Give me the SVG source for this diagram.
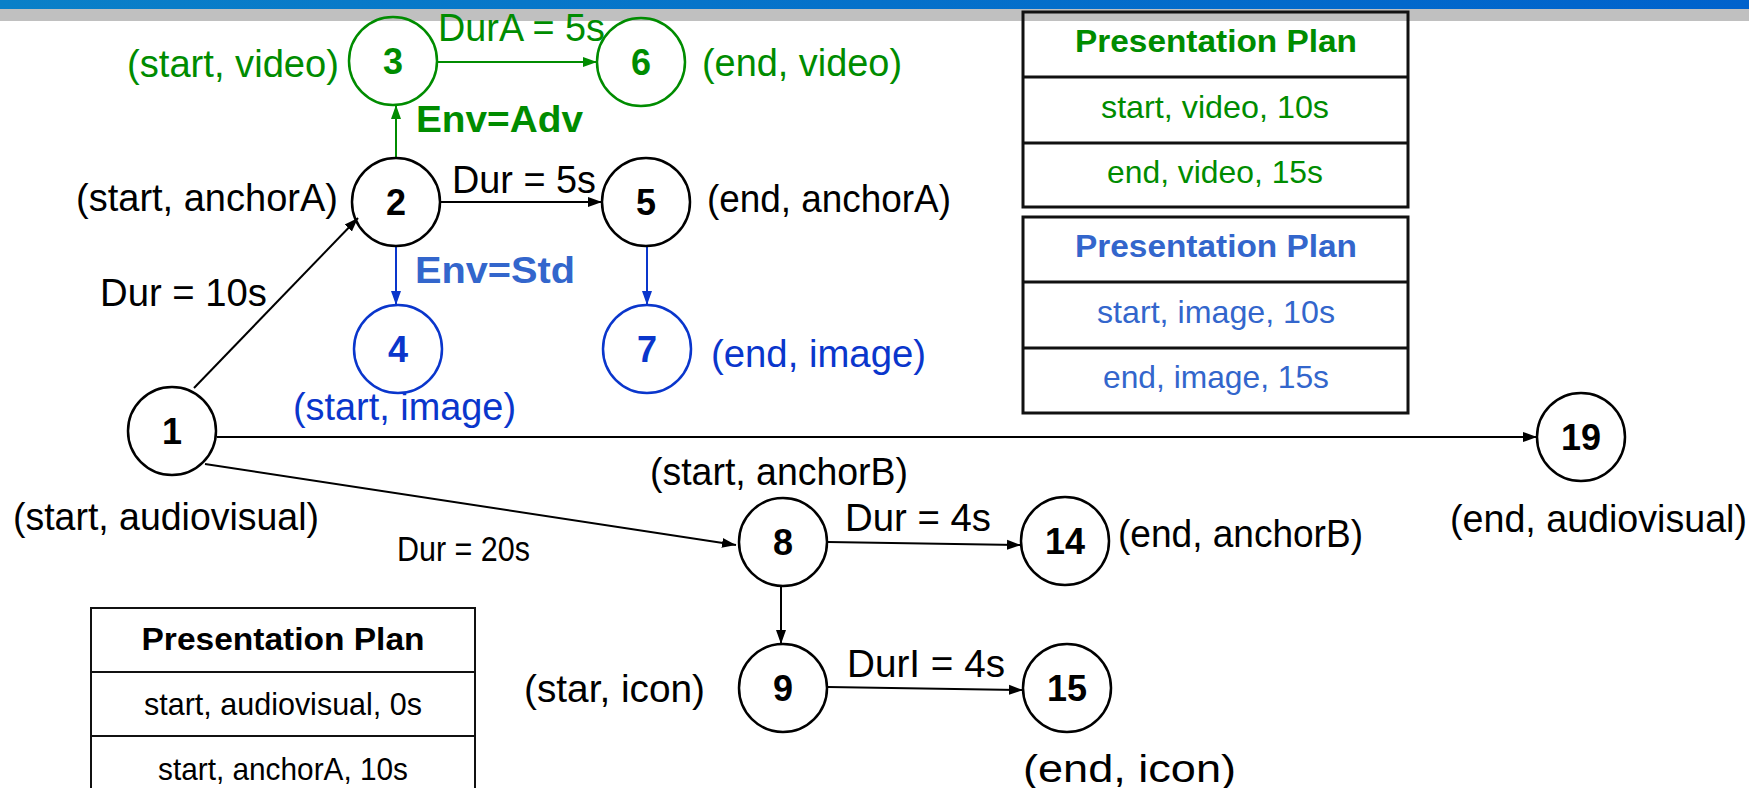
<svg xmlns="http://www.w3.org/2000/svg" width="1749" height="788" viewBox="0 0 1749 788">
  <style>
    text { font-family: "Liberation Sans", Arial, sans-serif; }
    .lbl { font-size: 38px; }
    .sm { font-size: 35px; }
    .num { font-size: 36px; font-weight: bold; text-anchor: middle; }
    .env { font-size: 36px; font-weight: bold; }
    .th { font-size: 31px; font-weight: bold; text-anchor: middle; }
    .td { font-size: 32px; text-anchor: middle; }
    .k { fill: #000; }
    .g { fill: #008c00; }
    .b { fill: #0a36cc; }
    .lb { fill: #3366cc; }
    .node { fill: none; stroke-width: 2.5; }
    .nk { stroke: #000; }
    .ng { stroke: #008c00; }
    .nb { stroke: #0a36cc; }
    .edge { fill: none; stroke-width: 2; }
    .ek { stroke: #000; marker-end: url(#ak); }
    .eg { stroke: #008c00; marker-end: url(#ag); }
    .eb { stroke: #0a36cc; marker-end: url(#ab); }
    .tbl { fill: none; stroke: #111; }
  </style>
  <defs>
    <linearGradient id="band" x1="0" y1="0" x2="1" y2="0">
      <stop offset="0" stop-color="#0a80c8"/>
      <stop offset="1" stop-color="#0062cc"/>
    </linearGradient>
    <marker id="ak" markerUnits="userSpaceOnUse" markerWidth="16" markerHeight="12" refX="14" refY="6" orient="auto">
      <path d="M0,1 L14,6 L0,11 Z" fill="#000"/>
    </marker>
    <marker id="ag" markerUnits="userSpaceOnUse" markerWidth="16" markerHeight="12" refX="14" refY="6" orient="auto">
      <path d="M0,1 L14,6 L0,11 Z" fill="#008c00"/>
    </marker>
    <marker id="ab" markerUnits="userSpaceOnUse" markerWidth="16" markerHeight="12" refX="14" refY="6" orient="auto">
      <path d="M0,1 L14,6 L0,11 Z" fill="#0a36cc"/>
    </marker>
  </defs>

  <rect width="1749" height="788" fill="#fff"/>
  <!-- title bands -->
  <rect x="0" y="0" width="1749" height="9" fill="url(#band)"/>
  <rect x="0" y="9" width="1749" height="12" fill="#c0c0c0"/>

  <!-- connectors -->
  <g id="connectors">
    <line class="edge ek" x1="194" y1="388" x2="358" y2="218"/>
    <line class="edge ek" x1="217" y1="437" x2="1537" y2="437"/>
    <line class="edge ek" x1="205" y1="464" x2="736" y2="545"/>
    <line class="edge eg" x1="396" y1="158" x2="396" y2="105"/>
    <line class="edge eg" x1="437" y1="62" x2="597" y2="62"/>
    <line class="edge ek" x1="440" y1="202" x2="602" y2="202"/>
    <line class="edge eb" x1="396" y1="246" x2="396" y2="305"/>
    <line class="edge eb" x1="647" y1="246" x2="647" y2="305"/>
    <line class="edge ek" x1="828" y1="542" x2="1021" y2="545"/>
    <line class="edge ek" x1="781" y1="586" x2="781" y2="644"/>
    <line class="edge ek" x1="828" y1="687" x2="1023" y2="690"/>
  </g>

  <!-- edge labels -->
  <g id="edge-labels">
    <text class="lbl g" x="438" y="41" textLength="167" lengthAdjust="spacingAndGlyphs">DurA = 5s</text>
    <text class="env g" x="416" y="132" textLength="167" lengthAdjust="spacingAndGlyphs">Env=Adv</text>
    <text class="lbl k" x="452" y="193" textLength="144" lengthAdjust="spacingAndGlyphs">Dur = 5s</text>
    <text class="env lb" x="415" y="283" textLength="160" lengthAdjust="spacingAndGlyphs">Env=Std</text>
    <text class="lbl k" x="100" y="306" textLength="167" lengthAdjust="spacingAndGlyphs">Dur = 10s</text>
    <text class="sm k" x="397" y="561" textLength="133" lengthAdjust="spacingAndGlyphs">Dur = 20s</text>
    <text class="lbl k" x="845" y="531" textLength="146" lengthAdjust="spacingAndGlyphs">Dur = 4s</text>
    <text class="lbl k" x="847" y="677" textLength="158" lengthAdjust="spacingAndGlyphs">DurI = 4s</text>
  </g>

  <!-- nodes -->
  <g id="node-1">
    <circle class="node nk" cx="172" cy="431" r="44"/>
    <text class="num k" x="172" y="444">1</text>
    <text class="lbl k" x="13" y="530" textLength="306" lengthAdjust="spacingAndGlyphs">(start, audiovisual)</text>
  </g>
  <g id="node-2">
    <circle class="node nk" cx="396" cy="202" r="44"/>
    <text class="num k" x="396" y="215">2</text>
    <text class="lbl k" x="76" y="211" textLength="262" lengthAdjust="spacingAndGlyphs">(start, anchorA)</text>
  </g>
  <g id="node-3">
    <circle class="node ng" cx="393" cy="61" r="44"/>
    <text class="num g" x="393" y="74">3</text>
    <text class="lbl g" x="127" y="77" textLength="212" lengthAdjust="spacingAndGlyphs">(start, video)</text>
  </g>
  <g id="node-4">
    <circle class="node nb" cx="398" cy="349" r="44"/>
    <text class="num b" x="398" y="362">4</text>
    <text class="lbl b" x="293" y="420" textLength="223" lengthAdjust="spacingAndGlyphs">(start, image)</text>
  </g>
  <g id="node-5">
    <circle class="node nk" cx="646" cy="202" r="44"/>
    <text class="num k" x="646" y="215">5</text>
    <text class="lbl k" x="707" y="212" textLength="244" lengthAdjust="spacingAndGlyphs">(end, anchorA)</text>
  </g>
  <g id="node-6">
    <circle class="node ng" cx="641" cy="62" r="44"/>
    <text class="num g" x="641" y="75">6</text>
    <text class="lbl g" x="702" y="76" textLength="200" lengthAdjust="spacingAndGlyphs">(end, video)</text>
  </g>
  <g id="node-7">
    <circle class="node nb" cx="647" cy="349" r="44"/>
    <text class="num b" x="647" y="362">7</text>
    <text class="lbl b" x="711" y="367" textLength="215" lengthAdjust="spacingAndGlyphs">(end, image)</text>
  </g>
  <g id="node-8">
    <circle class="node nk" cx="783" cy="542" r="44"/>
    <text class="num k" x="783" y="555">8</text>
    <text class="lbl k" x="650" y="485" textLength="258" lengthAdjust="spacingAndGlyphs">(start, anchorB)</text>
  </g>
  <g id="node-9">
    <circle class="node nk" cx="783" cy="688" r="44"/>
    <text class="num k" x="783" y="701">9</text>
    <text class="lbl k" x="524" y="702" textLength="181" lengthAdjust="spacingAndGlyphs">(star, icon)</text>
  </g>
  <g id="node-14">
    <circle class="node nk" cx="1065" cy="541" r="44"/>
    <text class="num k" x="1065" y="554">14</text>
    <text class="lbl k" x="1118" y="547" textLength="245" lengthAdjust="spacingAndGlyphs">(end, anchorB)</text>
  </g>
  <g id="node-15">
    <circle class="node nk" cx="1067" cy="688" r="44"/>
    <text class="num k" x="1067" y="701">15</text>
    <text class="lbl k" x="1023" y="782" textLength="213" lengthAdjust="spacingAndGlyphs">(end, icon)</text>
  </g>
  <g id="node-19">
    <circle class="node nk" cx="1581" cy="437" r="44"/>
    <text class="num k" x="1581" y="450">19</text>
    <text class="lbl k" x="1450" y="532" textLength="297" lengthAdjust="spacingAndGlyphs">(end, audiovisual)</text>
  </g>

  <!-- presentation plan: video -->
  <g id="plan-video">
    <rect class="tbl" x="1023" y="12" width="385" height="195" stroke-width="3"/>
    <line class="tbl" x1="1023" y1="77" x2="1408" y2="77" stroke-width="3"/>
    <line class="tbl" x1="1023" y1="143" x2="1408" y2="143" stroke-width="3"/>
    <text class="th g" x="1216" y="52" textLength="282" lengthAdjust="spacingAndGlyphs">Presentation Plan</text>
    <text class="td g" x="1215" y="118" textLength="228" lengthAdjust="spacingAndGlyphs">start, video, 10s</text>
    <text class="td g" x="1215" y="183" textLength="216" lengthAdjust="spacingAndGlyphs">end, video, 15s</text>
  </g>

  <!-- presentation plan: image -->
  <g id="plan-image">
    <rect class="tbl" x="1023" y="217" width="385" height="196" stroke-width="3"/>
    <line class="tbl" x1="1023" y1="282" x2="1408" y2="282" stroke-width="3"/>
    <line class="tbl" x1="1023" y1="348" x2="1408" y2="348" stroke-width="3"/>
    <text class="th lb" x="1216" y="257" textLength="282" lengthAdjust="spacingAndGlyphs">Presentation Plan</text>
    <text class="td lb" x="1216" y="323" textLength="238" lengthAdjust="spacingAndGlyphs">start, image, 10s</text>
    <text class="td lb" x="1216" y="388" textLength="226" lengthAdjust="spacingAndGlyphs">end, image, 15s</text>
  </g>

  <!-- presentation plan: audiovisual -->
  <g id="plan-audiovisual">
    <rect class="tbl" x="91" y="608" width="384" height="200" stroke-width="2"/>
    <line class="tbl" x1="91" y1="672" x2="475" y2="672" stroke-width="2"/>
    <line class="tbl" x1="91" y1="736" x2="475" y2="736" stroke-width="2"/>
    <text class="th k" x="283" y="650" textLength="283" lengthAdjust="spacingAndGlyphs">Presentation Plan</text>
    <text class="td k" x="283" y="715" textLength="278" lengthAdjust="spacingAndGlyphs">start, audiovisual, 0s</text>
    <text class="td k" x="283" y="780" textLength="250" lengthAdjust="spacingAndGlyphs">start, anchorA, 10s</text>
  </g>
</svg>
